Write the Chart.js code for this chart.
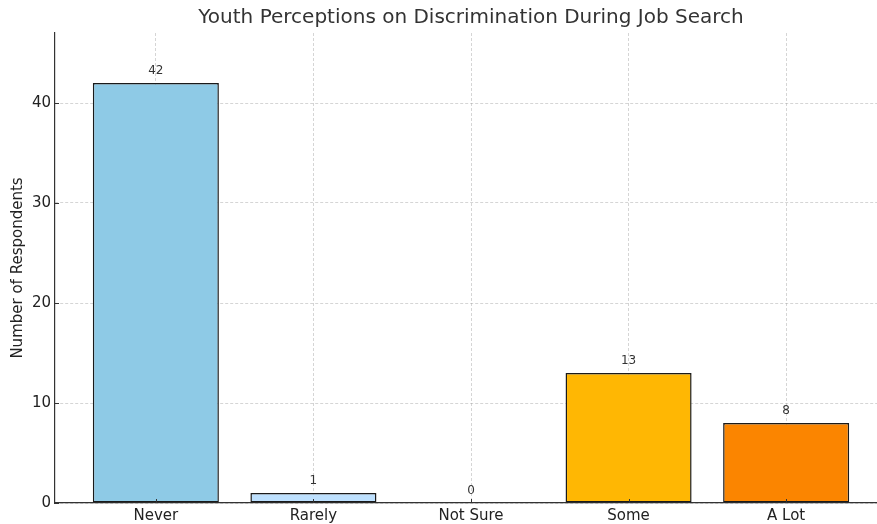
<!DOCTYPE html>
<html>
<head>
<meta charset="utf-8">
<script src="https://cdn.jsdelivr.net/npm/chart.js@4.4.1/dist/chart.umd.min.js"></script>
<style>
  html, body { margin: 0; padding: 0; background: #fff; overflow: hidden; }
  #wrap { position: relative; width: 887px; height: 524px; }
</style>
</head>
<body>
<div id="wrap"><canvas id="chart"></canvas></div>
<script>
// Survey responses
const categories = ['Never', 'Rarely', 'Not Sure', 'Some', 'A Lot'];
const respondents = [42, 1, 0, 13, 8];
const barColors = ['#8ECAE6', '#BDE0FE', '#219EBC', '#FFB703', '#FB8500'];
const yTicks = [0, 10, 20, 30, 40];

const FONT = "'DejaVu Sans', 'Liberation Sans', sans-serif";
const gridColor = 'rgba(150,150,150,0.5)';
const axisColor = '#333333';

// Writes each bar's count just above it
const valueLabels = {
  id: 'valueLabels',
  afterDatasetsDraw(chart) {
    const ctx = chart.ctx;
    const meta = chart.getDatasetMeta(0);
    ctx.save();
    ctx.font = '12px ' + FONT;
    ctx.fillStyle = '#333333';
    ctx.textAlign = 'center';
    ctx.textBaseline = 'middle';
    meta.data.forEach((bar, i) => {
      ctx.fillText(String(respondents[i]), bar.x, bar.y - 12);
    });
    ctx.restore();
  }
};

// Short tick marks pointing into the plot area
const innerTicks = {
  id: 'innerTicks',
  afterDraw(chart) {
    const { ctx, chartArea: a, scales } = chart;
    const len = 4;
    ctx.save();
    ctx.strokeStyle = axisColor;
    ctx.lineWidth = 1;
    ctx.beginPath();
    scales.x.ticks.forEach(t => {
      const px = Math.round(scales.x.getPixelForValue(t.value)) + 0.5;
      ctx.moveTo(px, a.bottom);
      ctx.lineTo(px, a.bottom - len);
    });
    scales.y.ticks.forEach(t => {
      const py = Math.round(scales.y.getPixelForValue(t.value)) + 0.5;
      ctx.moveTo(a.left, py);
      ctx.lineTo(a.left + len, py);
    });
    ctx.stroke();
    ctx.restore();
  }
};

const gridOpts = {
  color: gridColor,
  lineWidth: 0.8,
  offset: false,
  drawTicks: false
};

new Chart(document.getElementById('chart'), {
  type: 'bar',
  data: {
    datasets: [{
      data: respondents.map((v, i) => ({ x: i, y: v })),
      backgroundColor: barColors,
      borderColor: '#1a1a1a',
      borderWidth: 1.5,
      borderSkipped: false,
      barPercentage: 0.8,
      categoryPercentage: 1.0
    }]
  },
  options: {
    responsive: true,
    maintainAspectRatio: false,
    devicePixelRatio: 1,
    animation: false,
    layout: { padding: 0 },
    plugins: {
      legend: { display: false },
      tooltip: { enabled: false },
      title: {
        display: true,
        fullSize: false,
        text: 'Youth Perceptions on Discrimination During Job Search',
        color: '#333333',
        font: { family: FONT, size: 20, weight: 'normal', lineHeight: 1.2 },
        padding: { top: 6, bottom: 3 }
      }
    },
    scales: {
      x: {
        type: 'linear',
        offset: false,
        min: -0.64,
        max: 4.64,
        z: 1,
        afterBuildTicks(scale) { scale.ticks = categories.map((c, i) => ({ value: i })); },
        afterFit(scale) { scale.height = 21; },
        ticks: {
          callback: (v) => categories[v],
          color: '#222222',
          font: { family: FONT, size: 15 },
          padding: 4,
          maxRotation: 0,
          autoSkip: false
        },
        grid: gridOpts,
        border: { display: true, color: axisColor, width: 1.2, dash: [3, 2] }
      },
      y: {
        min: 0,
        max: 47,
        z: 1,
        afterBuildTicks(scale) { scale.ticks = yTicks.map(v => ({ value: v })); },
        afterFit(scale) { scale.width = 55; },
        ticks: {
          color: '#222222',
          font: { family: FONT, size: 15 },
          padding: 4
        },
        grid: gridOpts,
        border: { display: true, color: axisColor, width: 1.2, dash: [3, 2] },
        title: {
          display: true,
          text: 'Number of Respondents',
          color: '#222222',
          font: { family: FONT, size: 15 },
          padding: { top: 9, bottom: 0 }
        }
      }
    }
  },
  plugins: [valueLabels, innerTicks]
});
</script>
</body>
</html>
